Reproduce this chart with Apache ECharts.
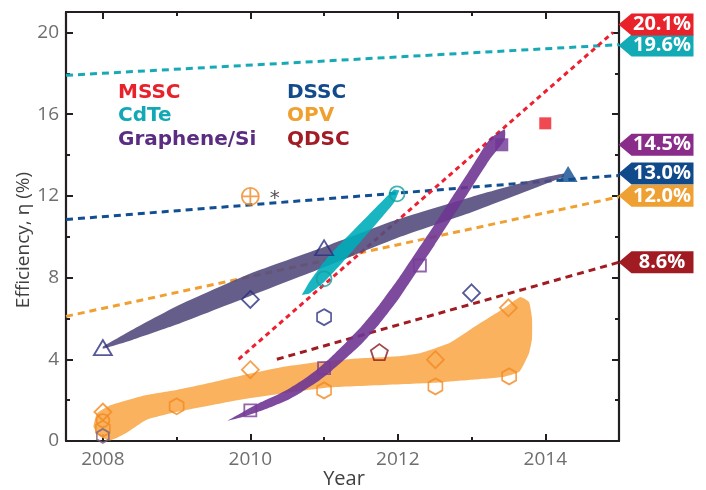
<!DOCTYPE html>
<html>
<head>
<meta charset="utf-8">
<script src="https://cdn.jsdelivr.net/npm/echarts@6/dist/echarts.min.js"></script>
<style>
  html, body { margin: 0; padding: 0; background: #fff; }
  #chart { width: 706px; height: 490px; }
</style>
</head>
<body>
<div id="chart"></div>
<script>
// ---- axes ----
const xMajorTicks = [2008, 2010, 2012, 2014];
const xMinorTicks = [2009, 2011, 2013];
const yMajorTicks = [0, 4, 8, 12, 16, 20];
const yMinorTicks = [2, 6, 10, 14, 18];

// ---- legend (text only) ----
const legendLeft = ['MSSC', 'CdTe', 'Graphene/Si'];
const legendRight = ['DSSC', 'OPV', 'QDSC'];

// ---- dashed trend lines [year, efficiency] ----
const msscTrend = [[2009.84, 4.0], [2014.92, 20.0]];
const cdteTrend = [[2007.5, 17.9], [2015, 19.4]];
const dsscTrend = [[2007.5, 10.84], [2015, 13.0]];
const opvTrend = [[2007.5, 6.1], [2015, 11.95]];
const qdscTrend = [[2010.36, 4.0], [2015, 8.75]];

// record tags at the right edge
const tagText = ['20.1%', '19.6%', '14.5%', '13.0%', '12.0%', '8.6%'];
const tagValue = [20.1, 19.6, 14.5, 13.0, 12.0, 8.6];

// ---- shaded progress bands (upper edge, lower edge) ----
const dsscBandUpper = [[2008, 4.62], [2008.4, 5.45], [2009, 6.6], [2010, 8.2], [2011, 9.5], [2012, 10.85], [2013, 11.95], [2013.8, 12.75], [2014.25, 13.1]];
const dsscBandLower = [[2008, 4.52], [2008.4, 4.95], [2009, 5.7], [2010, 7.1], [2011, 8.5], [2012, 9.95], [2013, 11.2], [2013.8, 12.3], [2014.25, 12.95]];

const opvBandUpper = [[2007.87, 0.7], [2007.92, 1.35], [2008.1, 1.75], [2008.56, 2.23], [2009, 2.5], [2009.46, 2.85], [2010, 3.3], [2010.4, 3.6], [2011, 3.9], [2011.5, 4.05], [2012.0, 4.15], [2012.3, 4.3], [2012.7, 4.8], [2013.0, 5.5], [2013.43, 6.47], [2013.66, 7.05], [2013.78, 6.8], [2013.82, 6.0]];
const opvBandLower = [[2007.87, 0.7], [2007.95, 0.25], [2008.1, 0.03], [2008.3, 0.35], [2008.6, 1.05], [2009, 1.42], [2010, 2.1], [2011, 2.6], [2012.5, 2.85], [2013.0, 3.0], [2013.45, 3.15], [2013.65, 3.4], [2013.78, 4.3], [2013.82, 5.0]];

const grapheneBandUpper = [[2009.69, 1.0], [2009.9, 1.42], [2010.1, 1.82], [2010.3, 2.15], [2010.5, 2.51], [2010.7, 2.96], [2010.9, 3.49], [2011.1, 4.13], [2011.3, 4.84], [2011.5, 5.58], [2011.75, 6.67], [2012.0, 7.9], [2012.25, 9.25], [2012.5, 10.6], [2012.75, 12.0], [2013.0, 13.4], [2013.25, 14.8], [2013.45, 15.25]];
const grapheneBandLower = [[2009.69, 1.0], [2009.9, 1.18], [2010.1, 1.42], [2010.3, 1.69], [2010.5, 1.99], [2010.7, 2.4], [2010.9, 2.87], [2011.1, 3.43], [2011.3, 4.06], [2011.5, 4.72], [2011.75, 5.73], [2012.0, 6.9], [2012.25, 8.25], [2012.5, 9.6], [2012.75, 11.0], [2013.0, 12.4], [2013.25, 13.8], [2013.45, 14.75]];

const cdteBandUpper = [[2010.7, 7.15], [2010.8, 7.78], [2011.0, 8.78], [2011.2, 9.58], [2011.4, 10.32], [2011.6, 11.05], [2011.8, 11.78], [2011.95, 12.31], [2012.02, 12.26]];
const cdteBandLower = [[2010.7, 7.15], [2010.8, 7.22], [2011.0, 7.78], [2011.2, 8.54], [2011.4, 9.36], [2011.6, 10.19], [2011.8, 11.02], [2011.95, 11.67], [2012.02, 12.26]];

// ---- reported devices ----
const dsscTriangleOpen = [[2008, 4.57], [2011.0, 9.46]];
const dsscTriangleFilled = [[2014.31, 13.07]];
const dsscDiamond = [[2010, 6.93], [2013.0, 7.25]];
const dsscHexagon = [[2011.0, 6.06]];
const qdscPentagon = [[2011.75, 4.35]];
const grapheneSquareOpen = [[2010, 1.5], [2011, 3.57], [2012.3, 8.59]];
const grapheneSquareFilled = [[2013.41, 14.5]];
const msscSquare = [[2014.0, 15.55]];
const cdteCircle = [[2011.0, 7.94], [2011.99, 12.1]];
const opvDiamond = [[2008, 1.42], [2010, 3.49], [2012.51, 3.98], [2013.5, 6.52]];
const opvHexagon = [[2008, 0.6], [2009.0, 1.7], [2011.0, 2.48], [2012.51, 2.67], [2013.51, 3.16]];
const opvCircle = [[2008, 1.0]];
const greyHexagon = [[2008, 0.25]];
const opvCrossCircle = [[2010, 11.97]];

// colours
const C = {
  mssc: '#e8212b', cdte: '#13a8b5', graphene: '#5a2d82', dssc: '#124a8a',
  opv: '#efa02e', qdsc: '#a11c24', axis: '#231f20', tick: '#6d6e71'
};

const HEX = 'path://M0,0 L8.66,5 L8.66,15 L0,20 L-8.66,15 L-8.66,5 Z';
const PENT = 'path://M0,-10 L9.51,-3.09 L5.88,8.09 L-5.88,8.09 L-9.51,-3.09 Z';
const CROSS = 'path://M0,-8 A8,8 0 1,1 0,8 A8,8 0 1,1 0,-8 Z M-8,0 L8,0 M0,-8 L0,8';
const TAG = 'path://M0,11 L13,0 L75,0 L75,22 L13,22 Z';

function xAx(position, ticks, len, main) {
  return {
    type: 'value', position: position, min: 2007.5, max: 2015,
    axisLine: { show: main, onZero: false, lineStyle: { color: C.axis, width: 2.2 } },
    axisTick: { show: true, inside: true, length: len, customValues: ticks, lineStyle: { color: C.axis, width: 2 } },
    axisLabel: {
      show: main && position === 'bottom', customValues: ticks, margin: 9,
      color: C.tick, fontSize: 19, fontFamily: 'Open Sans',
      formatter: function (v) { return String(v); }
    },
    splitLine: { show: false }
  };
}
function yAx(position, ticks, len, main) {
  return {
    type: 'value', position: position, min: 0, max: 21,
    axisLine: { show: main, onZero: false, lineStyle: { color: C.axis, width: 2.2 } },
    axisTick: { show: true, inside: true, length: len, customValues: ticks, lineStyle: { color: C.axis, width: 2 } },
    axisLabel: { show: main && position === 'left', customValues: ticks, margin: 7, color: C.tick, fontSize: 19, fontFamily: 'Open Sans' },
    splitLine: { show: false }
  };
}

function trend(data, color, dash, tagIdx, tagColor, dy) {
  return {
    type: 'line', data: data, symbol: 'none', z: 2, silent: true, clip: false,
    lineStyle: { color: color, width: 3, type: dash },
    markPoint: {
      symbol: TAG, symbolSize: [75, 22], symbolOffset: [37, dy],
      itemStyle: { color: tagColor },
      label: { show: true, position: 'inside', offset: [6, 0], color: '#fff', fontSize: 20, fontWeight: 'bold', fontFamily: 'Open Sans', formatter: tagText[tagIdx] },
      data: [{ coord: [2015, tagValue[tagIdx]] }]
    }
  };
}

function band(upper, lower, fill, opacity) {
  const pts = upper.concat(lower.slice().reverse());
  return {
    type: 'custom', z: 3, silent: true, data: pts,
    renderItem: function (params, api) {
      if (params.dataIndex !== 0) return null;
      return {
        type: 'polygon',
        shape: { points: pts.map(function (p) { return api.coord(p); }), smooth: 0.15 },
        style: { fill: fill, opacity: opacity }
      };
    }
  };
}

function marks(data, symbol, size, color, filled) {
  return {
    type: 'scatter', data: data, symbol: symbol, symbolSize: size, z: 5, silent: true,
    itemStyle: filled ? { color: color } : { color: 'rgba(0,0,0,0)', borderColor: color, borderWidth: 1.8 }
  };
}

function legendText(x, y, text, color) {
  return { type: 'text', x: x, y: y, style: { text: text, fill: color, font: 'bold 20px "DejaVu Sans"', verticalAlign: 'middle' } };
}

const chart = echarts.init(document.getElementById('chart'));

const crossSeries = marks(opvCrossCircle, CROSS, 17, '#f08a22', false);
crossSeries.label = { show: true, position: 'right', distance: 10, formatter: '*', color: '#231f20', fontSize: 20, fontFamily: 'DejaVu Sans', offset: [0, 2] };

chart.setOption({
  animation: false,
  grid: { left: 66, right: 87, top: 12, bottom: 49, containLabel: false, outerBoundsMode: 'none' },
  xAxis: [
    xAx('bottom', xMajorTicks, 7, true), xAx('bottom', xMinorTicks, 4, false),
    xAx('top', xMajorTicks, 7, true), xAx('top', xMinorTicks, 4, false)
  ],
  yAxis: [
    yAx('left', yMajorTicks, 7, true), yAx('left', yMinorTicks, 4, false),
    yAx('right', yMajorTicks, 7, true), yAx('right', yMinorTicks, 4, false)
  ],
  graphic: [
    { type: 'text', x: 24, y: 240, rotation: Math.PI / 2, style: { text: 'Efficiency, η (%)', fill: '#414042', font: '19px "Open Sans"', align: 'center', verticalAlign: 'middle' } },
    { type: 'text', x: 344, y: 479, style: { text: 'Year', fill: '#414042', font: '20px "Open Sans"', align: 'center', verticalAlign: 'middle' } },
    legendText(118, 93, legendLeft[0], C.mssc),
    legendText(118, 116, legendLeft[1], C.cdte),
    legendText(118, 140, legendLeft[2], C.graphene),
    legendText(287, 93, legendRight[0], C.dssc),
    legendText(287, 116, legendRight[1], C.opv),
    legendText(287, 140, legendRight[2], C.qdsc)
  ],
  series: [
    trend(cdteTrend, '#17aab6', [7, 5], 1, '#12aab5', 5),
    trend(dsscTrend, '#124e92', [7, 5], 3, '#114a8b', -2),
    trend(opvTrend, '#f0a030', [7, 5], 4, '#eea032', 0),
    trend(msscTrend, '#ee2030', [5, 4], 0, '#e8212b', -6),
    trend(qdscTrend, '#a01c22', [7, 5], 5, '#a01c22', -3),
    trend([], '#8a2c8a', [7, 5], 2, '#8a2c8a', 0),

    band(opvBandUpper, opvBandLower, '#f9aa4d', 0.9),
    band(dsscBandUpper, dsscBandLower, '#544c7d', 0.9),
    band(cdteBandUpper, cdteBandLower, '#00adb9', 0.9),
    band(grapheneBandUpper, grapheneBandLower, '#6f3693', 0.9),

    marks(dsscTriangleOpen, 'triangle', [18, 15], '#2a2f80', false),
    marks(dsscTriangleFilled, 'triangle', [19, 16], '#0f4c8f', true),
    marks(dsscDiamond, 'diamond', [17, 17], '#2a2f80', false),
    marks(dsscHexagon, HEX, [14, 16], '#2a2f80', false),
    marks(qdscPentagon, PENT, [17, 16], '#8b1a20', false),
    marks(grapheneSquareOpen, 'rect', 12, '#7a3b96', false),
    marks(grapheneSquareFilled, 'rect', 13, '#6f3694', true),
    marks(msscSquare, 'rect', 12, '#ee1c25', true),
    marks(cdteCircle, 'circle', 15, '#17a0a0', false),
    marks(opvDiamond, 'diamond', [17, 17], '#f18a22', false),
    marks(opvHexagon, HEX, [14, 16], '#f18a22', false),
    marks(opvCircle, 'circle', 13, '#f18a22', false),
    marks(greyHexagon, HEX, [12, 14], '#7a5f80', false),
    crossSeries
  ]
});
</script>
</body>
</html>
